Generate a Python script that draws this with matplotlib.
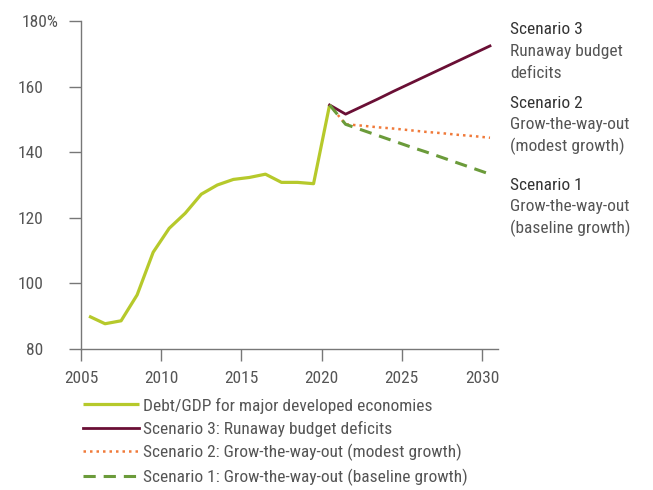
import matplotlib
matplotlib.use("Agg")
import matplotlib.pyplot as plt
import logging
logging.getLogger('matplotlib.font_manager').setLevel(logging.ERROR)

plt.rcParams['font.family'] = ['Roboto Condensed', 'Archivo Narrow', 'PT Sans Narrow',
                               'Liberation Sans Narrow', 'DejaVu Sans']

hist_years = [2005.5, 2006.5, 2007.5, 2008.5, 2009.5, 2010.5, 2011.5, 2012.5, 2013.5,
              2014.5, 2015.5, 2016.5, 2017.5, 2018.5, 2019.5, 2020.5]
hist_vals = [90.0, 87.7, 88.6, 96.5, 109.5, 116.8, 121.4, 127.2, 130.0,
             131.7, 132.3, 133.3, 130.8, 130.8, 130.4, 154.4]

scen_years = [2020.5, 2021.5, 2022.5, 2023.5, 2024.5, 2025.5, 2026.5, 2027.5, 2028.5, 2029.5, 2030.5]
scen3_vals = [154.4, 151.6, 153.9, 156.2, 158.6, 160.9, 163.2, 165.5, 167.8, 170.1, 172.4]
scen2_vals = [154.4, 148.5, 148.1, 147.6, 147.2, 146.7, 146.2, 145.8, 145.3, 144.9, 144.4]
scen1_vals = [154.4, 148.5, 146.8, 145.1, 143.4, 141.7, 140.1, 138.4, 136.7, 135.0, 133.3]

x_ticks = [2005, 2010, 2015, 2020, 2025, 2030]
y_ticks = [80, 100, 120, 140, 160, 180]
y_labels = ['80', '100', '120', '140', '160', '180%']

legend_labels = ['Debt/GDP for major developed economies',
                 'Scenario 3: Runaway budget deficits',
                 'Scenario 2: Grow-the-way-out (modest growth)',
                 'Scenario 1: Grow-the-way-out (baseline growth)']

side_titles = ['Scenario 3', 'Scenario 2', 'Scenario 1']
side_texts = [['Runaway budget', 'deficits'],
              ['Grow-the-way-out', '(modest growth)'],
              ['Grow-the-way-out', '(baseline growth)']]

c_hist = '#b6c92b'
c_s3 = '#6a0f35'
c_s2 = '#f07a3a'
c_s1 = '#6b9b3a'
gray = '#555555'

W, H = 653, 490
fig = plt.figure(figsize=(W / 100, H / 100), dpi=100)
ax = fig.add_axes([81 / W, 1 - 349 / H, (498 - 81) / W, (349 - 21) / H])

l0, = ax.plot(hist_years, hist_vals, color=c_hist, lw=2.3, solid_capstyle='butt')
l3, = ax.plot(scen_years, scen3_vals, color=c_s3, lw=2.0)
l2, = ax.plot(scen_years, scen2_vals, color=c_s2, lw=1.8, linestyle=(0, (1, 1.6)))
l1, = ax.plot(scen_years, scen1_vals, color=c_s1, lw=2.2, linestyle=(0, (4, 2.6)))

ax.set_xlim(2005, 2031)
ax.set_ylim(80, 180)
ax.set_xticks(x_ticks)
ax.set_yticks(y_ticks)
ax.set_yticklabels(y_labels)
for s in ['top', 'right']:
    ax.spines[s].set_visible(False)
for s in ['left', 'bottom']:
    ax.spines[s].set_color('#777777')
    ax.spines[s].set_linewidth(1.0)
ax.tick_params(axis='both', colors='#777777', labelcolor=gray, labelsize=12.5,
               length=8.5, width=1.0)
ax.tick_params(axis='y', pad=18.5)
ax.tick_params(axis='x', pad=7)
ax.yaxis.get_major_ticks()[-1].set_pad(7.5)

leg = fig.legend([l0, l3, l2, l1], legend_labels, loc='upper left',
                 bbox_to_anchor=(83 / W, 1 - 397.5 / H), frameon=False,
                 fontsize=12.5, handlelength=3.2, handletextpad=0.25,
                 labelspacing=0.42, borderaxespad=0, borderpad=0)
for t in leg.get_texts():
    t.set_color(gray)

side_y = [30, 103, 185]
for title, lines, y0 in zip(side_titles, side_texts, side_y):
    fig.text(510 / W, 1 - y0 / H, title, fontsize=12.5, color='#333333', va='center', ha='left')
    for i, ln in enumerate(lines):
        fig.text(510 / W, 1 - (y0 + 21.5 * (i + 1)) / H, ln, fontsize=12.5, color=gray,
                 va='center', ha='left')

fig.savefig('out.png', dpi=100)
